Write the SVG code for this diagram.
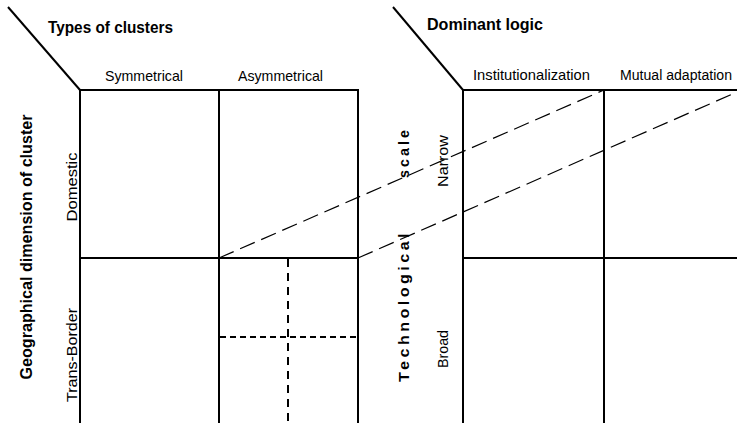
<svg xmlns="http://www.w3.org/2000/svg" width="737" height="423" viewBox="0 0 737 423">
<style>
text{font-family:"Liberation Sans",Arial,sans-serif;fill:#000}
.t{font-size:16px;font-weight:bold}
.l{font-size:15px}
.g{stroke:#000;stroke-width:2;fill:none}
.d{stroke:#000;stroke-width:1.2;fill:none;stroke-dasharray:16 7}
.dv{stroke:#000;stroke-width:2;fill:none;stroke-dasharray:8 6}
.dh{stroke:#000;stroke-width:1.8;fill:none;stroke-dasharray:6 4}
</style>
<rect width="737" height="423" fill="#fff"/>
<g id="left-matrix">
<line class="g" x1="8" y1="7" x2="80" y2="90"/>
<path class="g" d="M80 423V90H358V423M219 90V423M80 258H358"/>
<text class="t" x="48" y="33" textLength="125" lengthAdjust="spacingAndGlyphs">Types of clusters</text>
<text class="l" x="105" y="81" textLength="78" lengthAdjust="spacingAndGlyphs">Symmetrical</text>
<text class="l" x="238" y="81" textLength="85" lengthAdjust="spacingAndGlyphs">Asymmetrical</text>
<text class="t" transform="translate(32,247) rotate(-90)" text-anchor="middle" textLength="265" lengthAdjust="spacingAndGlyphs">Geographical dimension of cluster</text>
<text class="l" transform="translate(77,187) rotate(-90)" text-anchor="middle" textLength="69" lengthAdjust="spacingAndGlyphs">Domestic</text>
<text class="l" transform="translate(77,355) rotate(-90)" text-anchor="middle" textLength="94" lengthAdjust="spacingAndGlyphs">Trans-Border</text>
</g>
<g id="right-matrix">
<line class="g" x1="393" y1="7" x2="463" y2="90"/>
<path class="g" d="M463 423V90H737M604 90V423M463 258H737"/>
<text class="t" x="427" y="30" textLength="116" lengthAdjust="spacingAndGlyphs">Dominant logic</text>
<text class="l" x="473" y="80" textLength="117" lengthAdjust="spacingAndGlyphs">Institutionalization</text>
<text class="l" style="font-size:14px" x="620" y="80" textLength="112" lengthAdjust="spacingAndGlyphs">Mutual adaptation</text>
<text class="t" style="font-size:14px" transform="translate(409,382) rotate(-90)"><tspan textLength="152" lengthAdjust="spacingAndGlyphs" letter-spacing="3">Technological</tspan><tspan x="204" textLength="51" lengthAdjust="spacingAndGlyphs" letter-spacing="3">scale</tspan></text>
<text class="l" transform="translate(448,161) rotate(-90)" text-anchor="middle" textLength="52" lengthAdjust="spacingAndGlyphs">Narrow</text>
<text class="l" transform="translate(448,349) rotate(-90)" text-anchor="middle" textLength="38" lengthAdjust="spacingAndGlyphs">Broad</text>
</g>
<g id="connectors">
<line class="d" x1="219" y1="258" x2="604" y2="90"/>
<line class="d" x1="358" y1="258" x2="737" y2="92"/>
<line class="dv" x1="288" y1="259" x2="288" y2="423"/>
<line class="dh" x1="220" y1="337" x2="359" y2="337"/>
</g>
</svg>
